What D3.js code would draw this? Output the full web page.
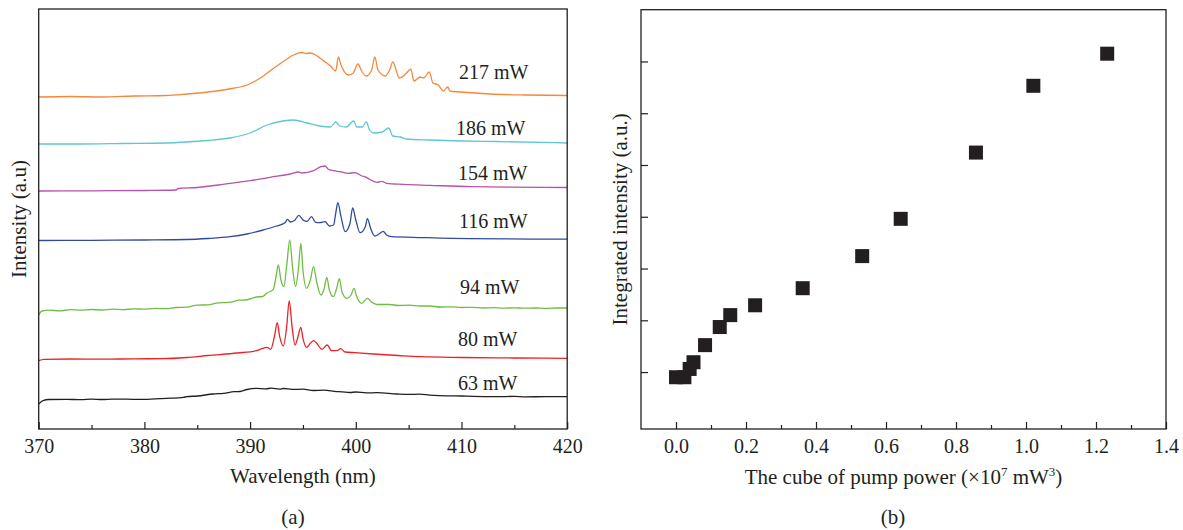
<!DOCTYPE html>
<meta charset="utf-8">
<style>
    body { margin: 0; background: #fff; }
    svg text { font-family: "Liberation Serif", "Times New Roman", serif; fill: #231f20; }
    .tick line { stroke: #231f20; stroke-width: 1.2px; }
    .frame { fill: none; stroke: #231f20; stroke-width: 1.3px; }
    .spec { fill: none; stroke-width: 1.3px; stroke-linejoin: round; }
</style>
<svg width="1183" height="530"></svg>
<script src="https://d3js.org/d3.v7.min.js"></script>
<script>

    // ---- panel (a): emission spectra, [wavelength nm, intensity a.u.] ----
    var s217 = [[370,33.2],[373,33.25],[376,33.2],[379,33.3],[382,33.35],[384,33.5],[386,33.7],[388,34.0],[389.7,34.4],[390.5,34.8],[391.25,35.3],[392,35.9],[392.8,36.5],[393.5,37.0],[394.1,37.4],[394.9,37.65],[395.3,37.55],[395.7,37.6],[396.2,37.4],[396.6,37.1],[397.1,36.7],[397.6,36.3],[398.1,35.8],[398.35,37.2],[398.6,36.4],[399.3,35.4],[399.76,35.6],[400.2,36.5],[400.6,35.7],[401.0,35.3],[401.5,35.9],[401.8,37.2],[402.1,35.9],[402.8,35.3],[403.2,35.9],[403.5,36.7],[403.9,35.6],[404.1,35.1],[404.8,35.6],[405.2,36.0],[405.5,34.8],[406.1,35.2],[406.4,35.1],[406.95,35.7],[407.3,34.6],[407.8,34.4],[408.3,33.8],[408.7,34.2],[408.9,33.8],[409.9,33.7],[412.7,33.5],[416,33.4],[420,33.35]];

    var s186 = [[370,28.5],[374,28.5],[378,28.55],[382,28.6],[384,28.7],[386,28.85],[388.1,29.1],[390.0,29.6],[391.6,30.4],[393.1,30.8],[394.1,30.9],[395.4,30.6],[396.6,30.3],[397.6,30.2],[398.1,30.7],[398.5,30.3],[399.1,30.2],[399.8,30.8],[400.1,30.2],[400.6,30.2],[401.0,30.7],[401.3,29.9],[401.7,29.6],[402.5,29.7],[403.1,30.1],[403.5,29.3],[404.2,29.2],[404.8,29.0],[407.0,28.9],[410,28.8],[413.3,28.75],[420,28.6]];

    var s154 = [[370,23.8],[375,23.82],[380,23.85],[383.0,23.9],[383.2,24.05],[385,24.15],[387,24.4],[388.1,24.57],[390.0,24.83],[391.9,25.17],[393.8,25.5],[394.6,25.7],[394.9,25.6],[396.0,25.83],[396.7,26.23],[397.1,26.3],[397.4,25.97],[397.9,25.83],[398.5,25.73],[399.3,25.57],[399.9,25.63],[400.6,25.3],[401.0,25.17],[401.3,24.97],[402.0,24.67],[402.5,24.77],[402.9,24.57],[404.5,24.47],[407.0,24.37],[410.8,24.23],[420,24.15]];

    var s116 = [[370,18.85],[375,18.87],[380,18.9],[384,18.95],[386,19.05],[388.1,19.23],[389.7,19.5],[391.25,19.9],[392.5,20.3],[393.3,20.63],[393.55,20.97],[393.8,20.7],[394.25,20.9],[394.6,21.37],[395.1,20.83],[395.4,20.77],[395.8,21.23],[396.2,20.67],[396.6,20.63],[397.1,20.73],[397.5,20.3],[397.9,20.4],[398.1,21.57],[398.3,22.63],[398.6,21.23],[399.0,19.73],[399.45,20.57],[399.7,22.1],[400.0,20.9],[400.4,19.63],[400.9,20.23],[401.1,21.03],[401.4,20.07],[401.8,19.3],[402.2,19.5],[402.6,19.77],[402.9,19.4],[403.4,19.23],[405.4,19.17],[410.8,19.03],[420,18.98]];

    var s94 = [[370,11.4],[370.3,11.8],[371,11.88],[372,11.82],[373,11.93],[374,11.88],[375,11.95],[376,11.9],[377,11.98],[378,11.93],[379,12.02],[380,11.98],[381,12.06],[382,12.03],[383,12.15],[384,12.18],[385,12.38],[386,12.42],[387,12.62],[388,12.66],[389,12.88],[389.6,12.9],[390.6,13.2],[391.2,13.25],[391.6,13.6],[392.2,13.97],[392.45,15.2],[392.67,16.4],[392.9,15.0],[393.2,14.23],[393.46,16.3],[393.75,18.9],[394.03,16.0],[394.3,14.23],[394.56,15.9],[394.8,18.57],[395.0,15.9],[395.35,14.07],[395.7,14.9],[396.0,16.23],[396.3,14.7],[396.7,13.4],[397.0,14.0],[397.25,15.17],[397.5,13.9],[397.87,13.23],[398.2,14.1],[398.44,15.03],[398.7,13.7],[399.14,13.07],[399.55,13.4],[399.83,14.07],[400.1,13.2],[400.56,12.57],[401.1,13.07],[401.5,12.7],[402,12.45],[403.2,12.45],[404,12.35],[405,12.38],[406.1,12.3],[407,12.3],[408,12.2],[409,12.22],[410,12.15],[411,12.17],[412,12.1],[413,12.13],[414,12.08],[415,12.12],[416,12.08],[417,12.1],[418,12.06],[419,12.1],[420,12.1]];

    var s80 = [[370,6.83],[370.5,6.97],[373,7.0],[376,6.98],[379,7.02],[381.8,7.03],[384,7.15],[386,7.35],[388.8,7.6],[390.6,7.83],[391.6,8.17],[391.95,7.97],[392.3,9.23],[392.57,10.63],[392.8,9.23],[393.14,8.3],[393.46,10.23],[393.7,12.83],[393.97,10.23],[394.25,8.4],[394.53,9.23],[394.8,10.17],[395.0,9.07],[395.35,8.17],[395.7,8.57],[396.0,8.83],[396.3,8.57],[396.8,7.97],[397.3,8.4],[397.7,7.83],[398.2,7.83],[398.57,8.03],[398.98,7.7],[399.9,7.63],[401.65,7.5],[404,7.35],[406.1,7.23],[410,7.15],[415,7.1],[420,7.07]];

    var s63 = [[370,2.5],[370.4,2.83],[371,2.95],[372.65,2.97],[374,2.93],[375,2.99],[376,2.95],[377,2.99],[378.95,2.97],[380,2.96],[381,3.02],[382.1,3.07],[383.7,3.17],[384,3.23],[385,3.3],[386.5,3.5],[387.5,3.57],[388.5,3.73],[389.05,3.75],[389.7,3.95],[390.6,4.07],[391.5,4.02],[392,4.08],[392.8,3.99],[393.14,4.05],[394,3.96],[395,3.98],[396,3.85],[397,3.88],[398,3.77],[399.45,3.65],[400,3.7],[401,3.61],[402,3.63],[403.9,3.5],[405,3.46],[406,3.48],[407,3.39],[408.6,3.31],[410,3.3],[411,3.26],[413.3,3.23],[415,3.26],[416,3.21],[418,3.24],[420,3.23]];

    var powers = ["217 mW", "186 mW", "154 mW", "116 mW", "94 mW", "80 mW", "63 mW"];
    var spectra = [s217, s186, s154, s116, s94, s80, s63];
    var colors = ["#f5883a", "#5ec6d4", "#b651ae", "#2f4b9d", "#6fbd45", "#ec2227", "#231f20"];
    var wlTicks = [370, 380, 390, 400, 410, 420];

    // ---- panel (b): integrated intensity vs cube of pump power ----
    var cubePower = [0.0, 0.024, 0.039, 0.050, 0.083, 0.125, 0.155, 0.226, 0.362, 0.532, 0.642, 0.857, 1.021, 1.232];
    var integrated = [0.90, 0.90, 1.06, 1.19, 1.52, 1.87, 2.10, 2.29, 2.62, 3.24, 3.96, 5.24, 6.53, 7.15];
    var cubeTicks = [0.0, 0.2, 0.4, 0.6, 0.8, 1.0, 1.2, 1.4];

    // layout (not data)
    var labelBase = [79, 135, 180, 228, 294, 345.5, 390];
    var labelX = [459, 456, 458, 459, 460, 458, 458];

    var svg = d3.select("svg");

    // ---------------- panel (a) ----------------
    var xa = d3.scaleLinear().domain([370, 420]).range([38.7, 567.2]);
    var ya = d3.scaleLinear().domain([0, 42]).range([429, 9]);

    var ga = svg.append("g");

    ga.append("g")
            .attr("transform", "translate(0," + ya(0) + ")")
            .call(d3.axisBottom(xa).tickValues(d3.range(375, 420, 10)).tickSize(-4).tickFormat(""))
            .call(function(g) { g.select(".domain").remove(); });

    ga.append("g")
            .attr("transform", "translate(0," + ya(0) + ")")
            .call(d3.axisBottom(xa).tickValues(wlTicks).tickSize(-7).tickPadding(10).tickFormat(d3.format("d")))
            .call(function(g) {
                g.select(".domain").remove();
                g.selectAll("text").attr("font-size", 20).attr("font-family", "Liberation Serif").attr("fill", "#231f20");
            });

    var line = d3.line()
            .x(function(d) { return xa(d[0]); })
            .y(function(d) { return ya(d[1]); })
            .curve(d3.curveMonotoneX);

    ga.selectAll("path.spec")
            .data(spectra)
            .enter().append("path")
            .attr("class", "spec")
            .attr("stroke", function(d, i) { return colors[i]; })
            .attr("d", line);

    ga.selectAll("text.lbl")
            .data(powers)
            .enter().append("text")
            .attr("class", "lbl")
            .attr("x", function(d, i) { return labelX[i]; })
            .attr("y", function(d, i) { return labelBase[i]; })
            .attr("font-size", 20)
            .text(function(d) { return d; });

    ga.append("rect").attr("class", "frame")
            .attr("x", xa(370)).attr("y", ya(42))
            .attr("width", xa(420) - xa(370)).attr("height", ya(0) - ya(42));

    ga.append("text")
            .attr("x", (xa(370) + xa(420)) / 2).attr("y", 483)
            .attr("text-anchor", "middle").attr("font-size", 21)
            .text("Wavelength (nm)");

    ga.append("text")
            .attr("transform", "translate(25.6," + (ya(0) + ya(42)) / 2 + ") rotate(-90)")
            .attr("text-anchor", "middle").attr("font-size", 21)
            .text("Intensity (a.u)");

    ga.append("text")
            .attr("x", 293).attr("y", 523.5)
            .attr("text-anchor", "middle").attr("font-size", 21)
            .text("(a)");

    // ---------------- panel (b) ----------------
    var xb = d3.scaleLinear().domain([-0.1, 1.4]).range([641, 1166]);
    var yb = d3.scaleLinear().domain([-0.1, 8.0]).range([429, 9.7]);

    var gb = svg.append("g");

    gb.append("g")
            .attr("transform", "translate(0," + yb(-0.1) + ")")
            .call(d3.axisBottom(xb).tickValues(d3.range(0.1, 1.4, 0.2)).tickSize(-4).tickFormat(""))
            .call(function(g) { g.select(".domain").remove(); });

    gb.append("g")
            .attr("transform", "translate(0," + yb(-0.1) + ")")
            .call(d3.axisBottom(xb).tickValues(cubeTicks).tickSize(-7).tickPadding(10).tickFormat(d3.format(".1f")))
            .call(function(g) {
                g.select(".domain").remove();
                g.selectAll("text").attr("font-size", 20).attr("font-family", "Liberation Serif").attr("fill", "#231f20");
            });

    gb.append("g")
            .attr("transform", "translate(" + xb(-0.1) + ",0)")
            .call(d3.axisLeft(yb).tickValues([1, 2, 3, 4, 5, 6, 7]).tickSize(-7).tickFormat(""))
            .call(function(g) { g.select(".domain").remove(); });

    var sq = 14;
    gb.selectAll("rect.pt")
            .data(cubePower)
            .enter().append("rect")
            .attr("class", "pt")
            .attr("x", function(d) { return xb(d) - sq / 2; })
            .attr("y", function(d, i) { return yb(integrated[i]) - sq / 2; })
            .attr("width", sq).attr("height", sq)
            .attr("fill", "#231f20");

    gb.append("rect").attr("class", "frame")
            .attr("x", xb(-0.1)).attr("y", yb(8))
            .attr("width", xb(1.4) - xb(-0.1)).attr("height", yb(-0.1) - yb(8));

    var xt = gb.append("text")
            .attr("x", (xb(-0.1) + xb(1.4)) / 2).attr("y", 484)
            .attr("text-anchor", "middle").attr("font-size", 21);
    xt.append("tspan").text("The cube of pump power (\u00d710");
    xt.append("tspan").attr("dy", -8).attr("font-size", 13).text("7");
    xt.append("tspan").attr("dy", 8).text(" mW");
    xt.append("tspan").attr("dy", -8).attr("font-size", 13).text("3");
    xt.append("tspan").attr("dy", 8).text(")");

    gb.append("text")
            .attr("transform", "translate(626.6," + (yb(-0.1) + yb(8)) / 2 + ") rotate(-90)")
            .attr("text-anchor", "middle").attr("font-size", 21)
            .text("Integrated intensity (a.u.)");

    gb.append("text")
            .attr("x", 893).attr("y", 523.5)
            .attr("text-anchor", "middle").attr("font-size", 21)
            .text("(b)");

</script>
